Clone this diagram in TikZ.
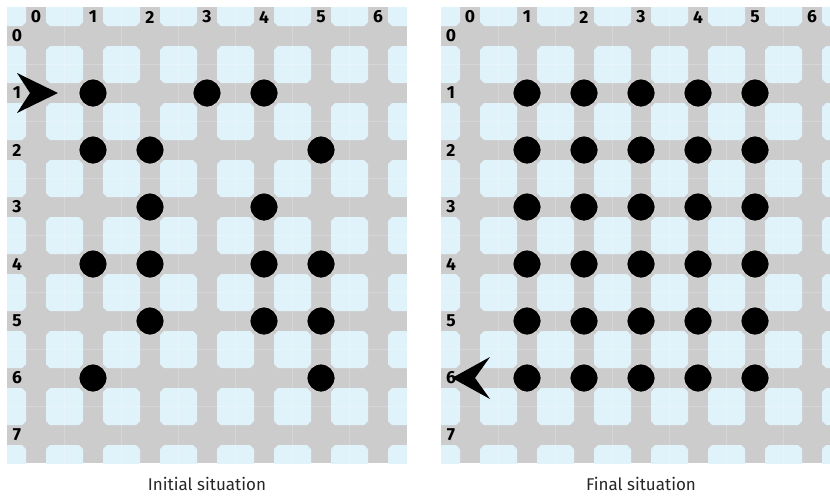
\documentclass[tikz,border=0pt]{standalone}
\usepackage{fontspec}
\setmainfont{Fira Sans}
\definecolor{tileblue}{HTML}{E1F3FA}
\definecolor{roadgray}{HTML}{CCCCCC}
\definecolor{halo}{HTML}{DADADA}

\tikzset{
  gridlabel/.style={font=\bfseries\fontsize{17.5}{18}\selectfont, inner sep=0pt, text=black},
  caption/.style={font=\fontsize{17}{20}\selectfont, inner sep=0pt, text=black!85},
  token/.style={fill=black, draw=halo, line width=0.8pt},
  pointer/.style={fill=black},
  seam/.style={white, opacity=0.2, line width=0.5pt},
}

% one board: gray roads, chamfered blue tiles, seams, coordinates
\newcommand\boardgrid[2]{%
  \begin{scope}[shift={(#1,0)}]
    \begin{scope}
      \clip (7,7) rectangle (#2,463);
      \fill[roadgray] (7,7) rectangle (407,463);
      \foreach \i in {-1,...,6}{
        \foreach \j in {-1,...,7}{
          \pgfmathsetmacro\xa{46+57*\i}
          \pgfmathsetmacro\xb{83+57*\i}
          \pgfmathsetmacro\ya{46+57*\j}
          \pgfmathsetmacro\yb{83+57*\j}
          \fill[tileblue] (\xa+4,\ya) -- (\xb-4,\ya) -- (\xb,\ya+4) -- (\xb,\yb-4)
            -- (\xb-4,\yb) -- (\xa+4,\yb) -- (\xa,\yb-4) -- (\xa,\ya+4) -- cycle;
        }
      }
      \foreach \k in {0,...,5}
        \draw[seam] (64.5+57*\k,7) -- (64.5+57*\k,463);
      \foreach \k in {0,...,6}
        \draw[seam] (7,64.5+57*\k) -- (407,64.5+57*\k);
    \end{scope}
    \foreach \i in {0,...,6}
      \node[gridlabel] (col#1-\i) at (36+57*\i,17) {\i};
    \foreach \j in {0,...,7}
      \node[gridlabel] (row#1-\j) at (17,36+57*\j) {\j};
  \end{scope}%
}

\begin{document}
\begin{tikzpicture}[x=1pt,y=-1pt]
\useasboundingbox (0,0) rectangle (830,496);

% left board: initial situation
\boardgrid{0}{407}
\foreach \c/\r in {1/1,3/1,4/1, 1/2,2/2,5/2, 2/3,4/3, 1/4,2/4,4/4,5/4, 2/5,4/5,5/5, 1/6,5/6}
  \path[token] (36+57*\c,36+57*\r) circle[radius=14];
\fill[pointer] (17,73) -- (58,93) -- (17,113) -- (30,93) -- cycle;
\node[caption] (capinit) at (207,484) {Initial situation};

% right board: final situation
\boardgrid{434}{396}
\foreach \c in {1,...,5}
  \foreach \r in {1,...,6}
    \path[token] (470+57*\c,36+57*\r) circle[radius=14];
\fill[pointer] (490,357) -- (452,378) -- (490,399) -- (475,378) -- cycle;
\node[caption] (capfinal) at (641,484) {Final situation};
\end{tikzpicture}
\end{document}
